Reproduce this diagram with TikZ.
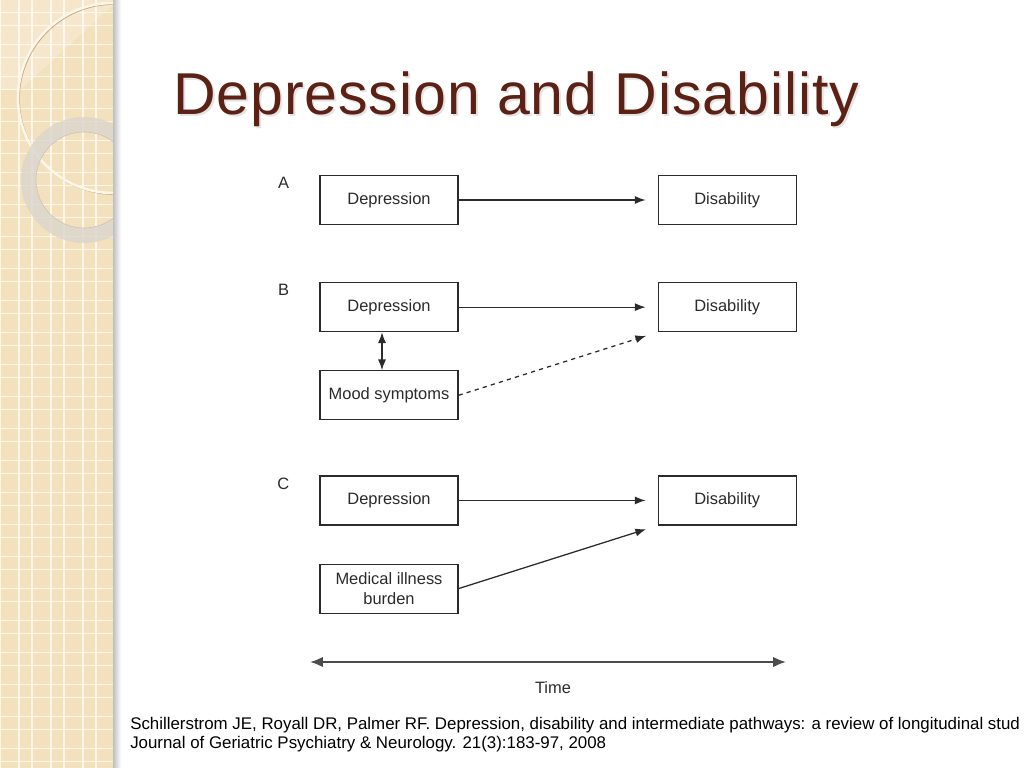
\documentclass[tikz,border=0pt]{standalone}
\usepackage{fontspec}
\setmainfont{Liberation Sans}
\newfontfamily\titlefont[LetterSpace=1.5]{Liberation Sans}
\usetikzlibrary{positioning,arrows.meta}

\definecolor{titlered}{HTML}{5C2115}
\definecolor{stripbeige}{HTML}{F3E0BC}
\definecolor{gridwhite}{HTML}{FCF6E8}
\definecolor{figgrey}{HTML}{2B2B2B}
\definecolor{ringgrey}{HTML}{DAD6CE}

\begin{document}
\begin{tikzpicture}[
	x=0.025cm, y=-0.025cm,
	node distance=1cm and 1cm,
	factor/.style={draw=figgrey,line width=0.8pt,minimum width=3.45cm,minimum height=1.225cm,inner sep=0pt,align=center,text=figgrey,font=\fontsize{11.7}{14}\selectfont},
	panel/.style={text=figgrey,inner sep=0pt,font=\fontsize{11.7}{14}\selectfont},
	tip/.style={Latex[length=2.7mm,width=2mm]},
	link/.style={-{Latex[length=2.7mm,width=2mm]},figgrey,line width=0.9pt,shorten >=0.3cm}
	]
	\useasboundingbox (0,0) rectangle (1024,768);
	\fill[white] (0,0) rectangle (1024,768);
	% left strip
	\fill[stripbeige] (0,0) rectangle (113,768);
	\foreach \k in {0,...,3} {
		\draw[gridwhite,line width=1.3pt] (32*\k,0) -- (32*\k,768);
		\draw[gridwhite,line width=1.3pt] (32*\k+19,0) -- (32*\k+19,768);
	}
	\foreach \k in {0,...,23} {
		\draw[gridwhite,line width=1.3pt] (0,32*\k+12.5) -- (113,32*\k+12.5);
		\draw[gridwhite,line width=1.3pt] (0,32*\k+25.5) -- (113,32*\k+25.5);
	}
	\begin{scope}
		\clip (0,0) rectangle (113,768);
		\fill[white,opacity=0.25] (0,0) -- (113,0) -- (113,5) -- (20,90) -- (0,90) -- cycle;
		\draw[brown!60!gray,line width=1.2pt,opacity=0.6] (114,99) circle (95);
		\draw[gridwhite,line width=1.8pt] (113,98) circle (95);
		\fill[ringgrey,opacity=0.8,even odd rule] (84,180) circle (63) (84,180) circle (48);
		\draw[gray!60,line width=0.4pt,opacity=0.6] (84,180) circle (48);
	\end{scope}
	\shade[left color=black!25,right color=white] (113,0) rectangle (121,768);
	% title
	\node[anchor=base west,inner sep=0pt,text=black!30,opacity=0.35,font=\titlefont\fontsize{42}{50}\selectfont] (titleshadow) at (175,117) {Depression and Disability};
	\node[anchor=base west,inner sep=0pt,text=titlered,font=\titlefont\fontsize{42}{50}\selectfont] (title) at (173,115) {Depression and Disability};
	% panel A
	\node[factor] (depA) at (389,200) {Depression};
	\node[factor,right=4.975cm of depA] (disA) {Disability};
	\node[panel,below left=0.05cm and 0.75cm of depA.north west] (labA) {A};
	\draw[link] (depA) -- (disA);
	% panel B
	\node[factor,below=1.425cm of depA] (depB) {Depression};
	\node[factor,right=4.975cm of depB] (disB) {Disability};
	\node[factor,below=0.95cm of depB] (mood) {Mood symptoms};
	\node[panel,below left=0.05cm and 0.75cm of depB.north west] (labB) {B};
	\draw[link] (depB) -- (disB);
	\draw[{Latex[length=2.7mm,width=2mm]}-{Latex[length=2.7mm,width=2mm]},figgrey,line width=0.9pt] ([xshift=-0.175cm]depB.south) -- ([xshift=-0.175cm]mood.north);
	\draw[link,dashed] (mood.east) -- (disB.south west);
	% panel C
	\node[factor,below=1.375cm of mood] (depC) {Depression};
	\node[factor,right=4.975cm of depC] (disC) {Disability};
	\node[factor,below=0.95cm of depC] (med) {Medical illness\\burden};
	\node[panel,below left=0.05cm and 0.75cm of depC.north west] (labC) {C};
	\draw[link] (depC) -- (disC);
	\draw[link] (med.east) -- (disC.south west);
	% time axis
	\coordinate (tL) at (310,662);
	\coordinate (tR) at (786,662);
	\draw[{Latex[length=3.2mm,width=2.6mm]}-{Latex[length=3.2mm,width=2.6mm]},black!70,line width=1.5pt] (tL) -- (tR);
	\node[panel] (time) at (553,688) {Time};
	% reference
	\node[anchor=base west,inner sep=0pt,font=\fontsize{12}{14}\selectfont] (cite1) at (130,729) {Schillerstrom JE, Royall DR, Palmer RF. Depression, disability and intermediate pathways: a review of longitudinal stud};
	\node[anchor=base west,inner sep=0pt,font=\fontsize{12}{14}\selectfont] (cite2) at (130,748.5) {Journal of Geriatric Psychiatry \& Neurology. 21(3):183-97, 2008};
\end{tikzpicture}
\end{document}
